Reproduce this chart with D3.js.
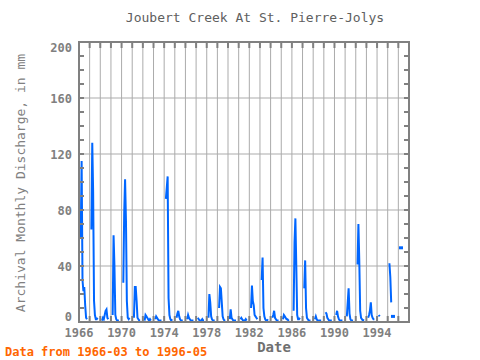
<!DOCTYPE html>
<html><head><meta charset="utf-8">
<script src="https://cdn.jsdelivr.net/npm/d3@7"></script>
<style>body{margin:0;background:#fff}svg{display:block}</style>
</head><body>
<svg id="c" width="480" height="360"></svg>
<script>
const title = "Joubert Creek At St. Pierre-Jolys";
const yLabel = "Archival Monthly Discharge, in mm";
const xLabel = "Date";
const footer = "Data from 1966-03 to 1996-05";
const xTickYears = [1966,1970,1974,1978,1982,1986,1990,1994];
const yTicks = [0,40,80,120,160,200];
const firstYear = 1966;
const seasonMonths = [3,4,5,6,7,8,9,10];
// monthly discharge, Mar..Oct, one row per year from 1966
const dischargeByYear = [
  [60,115,30,22,25,12,3,2],
  [66,128,93,15,5,2,2,3],
  [1,3,2,5,8,9,3,2],
  [5,62,40,5,2,1,1,1],
  [28,78,102,72,15,3,2,3],
  [3,25,25,15,3,2,1,1],
  [1,5,4,3,2,1,2,1],
  [2,4,3,2,1,1,1,1],
  [88,96,104,17,5,2,1,2],
  [3,6,8,4,2,1,1,1],
  [2,5,3,2,1,1,1,1],
  [3,2,1,1,1,2,1,1],
  [3,20,14,4,2,1,1,1],
  [10,25,24,14,4,2,1,1],
  [2,9,3,2,1,1,1,1],
  [2,3,2,1,1,1,2,1],
  [10,26,15,12,5,4,3,2],
  [30,46,10,4,2,1,1,2],
  [3,5,8,3,2,1,1,1],
  [2,5,4,3,2,2,1,1],
  [8,57,74,40,5,2,2,3],
  [24,44,10,3,2,1,1,1],
  [2,4,2,1,1,1,1,1],
  [7,6,3,2,1,1,1,1],
  [5,8,4,2,1,1,1,1],
  [4,14,24,6,2,1,1,1],
  [41,70,44,8,3,2,1,2],
  [3,5,8,14,5,3,2,2],
  [5,4,null,null,null,null,null,null],
  [42,32,14,null,4,null,null,null],
  [null,53,null,null,null,null,null,null]
];

const svg = d3.select("#c");
const W = 480, H = 360;
const m = {l:79, r:71, t:42, b:38};
const x0 = m.l, x1 = W - m.r, y0 = m.t, y1 = H - m.b;
const x = d3.scaleTime().domain([new Date(1966,0,1), new Date(1997,0,1)]).range([x0, x1]);
const y = d3.scaleLinear().domain([0,200]).range([y1, y0]);
const mono = "'DejaVu Sans Mono', 'Liberation Mono', monospace";

const pts = [];
dischargeByYear.forEach((row, i) => {
  const yr = firstYear + i;
  for (let mo = 1; mo <= 12; mo++) {
    const k = seasonMonths.indexOf(mo);
    const v = k >= 0 ? row[k] : null;
    pts.push({d: new Date(yr, mo-1, 1), v: (v == null ? null : v)});
  }
});

// grid
const years = d3.range(1967, 1997);
svg.append("g").selectAll("line").data(years).join("line")
  .attr("x1", d => x(new Date(d,0,1))).attr("x2", d => x(new Date(d,0,1)))
  .attr("y1", y0).attr("y2", y1).attr("stroke", "#ababab").attr("stroke-width", 1);
svg.append("g").selectAll("line").data(yTicks.slice(1,-1)).join("line")
  .attr("x1", x0).attr("x2", x1).attr("y1", d => y(d)).attr("y2", d => y(d))
  .attr("stroke", "#ababab").attr("stroke-width", 1);

// data line
const line = d3.line().defined(d => d.v != null).x(d => x(d.d)).y(d => y(d.v));
svg.append("path").datum(pts).attr("d", line).attr("fill", "none")
  .attr("stroke", "#0066ff").attr("stroke-width", 2);
const iso = pts.filter((p, i) => p.v != null && (i == 0 || pts[i-1].v == null) && (i == pts.length-1 || pts[i+1].v == null));
svg.append("g").selectAll("rect").data(iso).join("rect")
  .attr("x", d => x(d.d) - 2).attr("y", d => y(d.v) - 1.5).attr("width", 4).attr("height", 3)
  .attr("fill", "#0066ff");

// frame ticks
const fr = svg.append("g").attr("stroke", "#808080").attr("stroke-width", 2);
years.forEach(yr => {
  const xx = x(new Date(yr,0,1));
  fr.append("line").attr("x1", xx).attr("x2", xx).attr("y1", y0).attr("y2", y0 + 6);
  fr.append("line").attr("x1", xx).attr("x2", xx).attr("y1", y1).attr("y2", y1 - 6);
});
d3.range(10, 200, 10).forEach(v => {
  fr.append("line").attr("x1", x0).attr("x2", x0 + 5).attr("y1", y(v)).attr("y2", y(v));
  fr.append("line").attr("x1", x1).attr("x2", x1 - 5).attr("y1", y(v)).attr("y2", y(v));
});
svg.append("rect").attr("x", x0).attr("y", y0).attr("width", x1 - x0).attr("height", y1 - y0)
  .attr("fill", "none").attr("stroke", "#808080").attr("stroke-width", 2);

// texts
svg.append("text").attr("x", 255).attr("y", 22).attr("text-anchor", "middle")
  .attr("font-family", mono).attr("font-size", 13).attr("fill", "#606060").text(title);
svg.append("g").selectAll("text").data(yTicks).join("text")
  .attr("x", 72).attr("y", d => Math.max(y0 + 10, Math.min(y1 - 1, y(d) + 4.5))).attr("text-anchor", "end")
  .attr("font-family", mono).attr("font-size", 12).attr("font-weight", "bold").attr("fill", "#808080").text(d => d);
svg.append("g").selectAll("text").data(xTickYears).join("text")
  .attr("x", d => x(new Date(d,0,1))).attr("y", 337).attr("text-anchor", "middle")
  .attr("font-family", mono).attr("font-size", 12).attr("font-weight", "bold").attr("fill", "#808080").text(d => d);
svg.append("text").attr("x", 274).attr("y", 352).attr("text-anchor", "middle")
  .attr("font-family", mono).attr("font-size", 14).attr("font-weight", "bold").attr("fill", "#707070").text(xLabel);
svg.append("text").attr("transform", "translate(25,183) rotate(-90)").attr("text-anchor", "middle")
  .attr("font-family", mono).attr("font-size", 13).attr("fill", "#808080").text(yLabel);
svg.append("text").attr("x", 5).attr("y", 356)
  .attr("font-family", mono).attr("font-size", 12).attr("font-weight", "bold").attr("fill", "#ff6600").text(footer);
</script>
</body></html>
